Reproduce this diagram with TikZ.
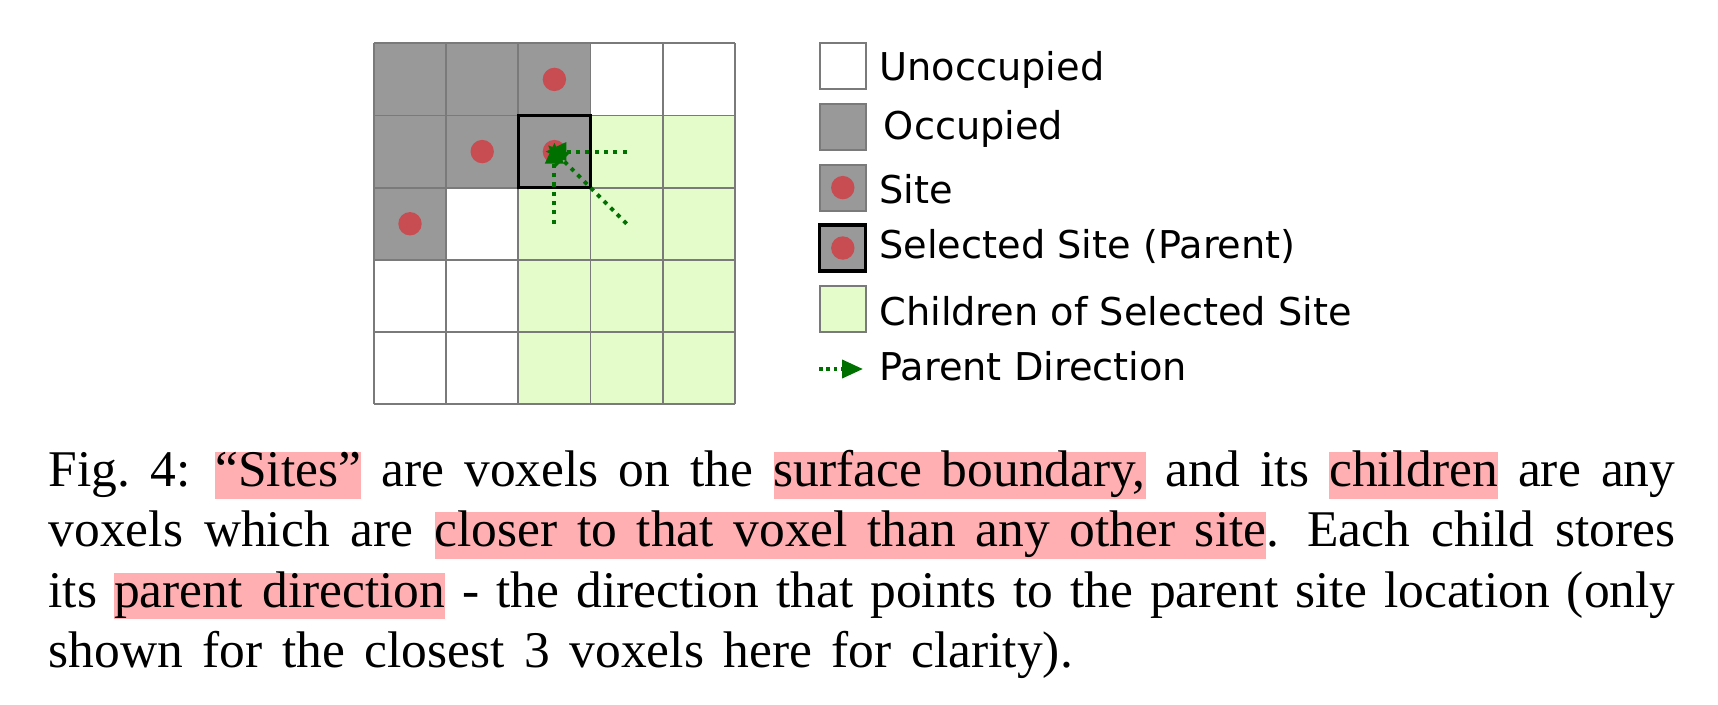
\documentclass[tikz,border=0pt]{standalone}
\usepackage{fontspec}
\setmainfont{Liberation Serif}
\newfontfamily\legfont{DejaVu Sans}
\usetikzlibrary{arrows.meta}

\definecolor{occgray}{RGB}{153,153,153}
\definecolor{gridgray}{RGB}{122,122,122}
\definecolor{sitered}{RGB}{199,77,82}
\definecolor{kidgreen}{RGB}{227,252,201}
\definecolor{dirgreen}{RGB}{0,112,0}
\definecolor{hlpink}{RGB}{255,174,178}

% pink marker behind a phrase of the caption
\newcommand\hilite[1]{\setbox0=\hbox{#1}\rlap{\color{hlpink}\rule[-0.24cm]{\wd0}{0.93cm}}\box0\relax}
% wider word spaces, as in the caption
\newcommand\capspacing{\spaceskip=0.38em plus 0.15em minus 0.08em\relax}

\tikzset{
  gridline/.style={draw=gridgray, line width=1.1pt},
  selbox/.style={draw=black, line width=1.9pt},
  legbox/.style={draw=gridgray, line width=1.1pt, minimum size=0.92cm, inner sep=0pt},
  legtext/.style={anchor=base west, inner sep=0pt, font=\legfont\fontsize{21.8pt}{26pt}\selectfont},
  pdir/.style={dirgreen, line width=2.2pt, dash pattern=on 2.3pt off 3pt,
    -{Triangle[length=0.42cm,width=0.36cm]}},
  captext/.style={anchor=base west, inner sep=0pt, text width=32.54cm, align=justify,
    font=\fontsize{29.3pt}{34.26pt}\selectfont},
}

\begin{document}
\begin{tikzpicture}[x=0.02cm, y=-0.02cm]
\useasboundingbox (0,0) rectangle (1718,704);

% voxel grid
\begin{scope}[xshift=7.48cm, yshift=-0.866cm, x=1.444cm, y=-1.444cm]
    \fill[occgray] (0,0) -- (3,0) -- (3,2) -- (1,2) -- (1,3) -- (0,3) -- cycle;
    \fill[kidgreen] (3,1) -- (5,1) -- (5,5) -- (2,5) -- (2,2) -- (3,2) -- cycle;
    \foreach \k in {0,...,5} {
        \draw[gridline] (\k,0) -- (\k,5);
        \draw[gridline] (0,\k) -- (5,\k);
    }

    \fill[sitered] (2.5,0.5) circle (0.234cm);
    \fill[sitered] (1.5,1.5) circle (0.234cm);
    \fill[sitered] (2.5,1.5) circle (0.234cm);
    \fill[sitered] (0.5,2.5) circle (0.234cm);
    \draw[selbox] (2,1) rectangle (3,2);

    \coordinate (parent) at (2.5,1.5);
    \coordinate (kidE) at (3.5,1.5);
    \coordinate (kidS) at (2.5,2.5);
    \coordinate (kidSE) at (3.5,2.5);
    \draw[pdir, shorten >=-0.18cm] (kidE) -- (parent);
    \draw[pdir, shorten >=-0.18cm] (kidS) -- (parent);
    \draw[pdir, shorten >=-0.18cm] (kidSE) -- (parent);
\end{scope}

% legend
\node[legbox, fill=white] (kUnocc) at (842.8,66.4) {};
\node[legbox, fill=occgray] (kOcc) at (842.8,127) {};
\node[legbox, fill=occgray] (kSite) at (842.8,187.6) {};
\node[legbox, fill=occgray, selbox] (kSel) at (842.8,248) {};
\node[legbox, fill=kidgreen] (kKids) at (842.8,308.6) {};
\fill[sitered] (kSite.center) circle (0.234cm);
\fill[sitered] (kSel.center) circle (0.234cm);
\coordinate (dirStart) at (819,369);
\coordinate (dirEnd) at (863,369);
\draw[pdir, dash pattern=on 2pt off 2.2pt] (dirStart) -- (dirEnd);

\node[legtext] (tUnocc) at (879,80.7) {Unoccupied};
\node[legtext] (tOcc) at (883.5,139.3) {Occupied};
\node[legtext] (tSite) at (879,203.3) {Site};
\node[legtext] (tSel) at (879,258.3) {Selected Site (Parent)};
\node[legtext] (tKids) at (879,325) {Children of Selected Site};
\node[legtext] (tDir) at (879,380) {Parent Direction};

% caption
\node[captext] (caption) at (48.3,486.7)
  {\capspacing Fig.~4: \hilite{“Sites”} are voxels on the \hilite{surface boundary,} and its \hilite{children} are any\linebreak
   voxels which are \hilite{closer to that voxel than any other site}. Each child stores\linebreak
   its \hilite{parent direction} - the direction that points to the parent site location (only\linebreak
   shown for the closest 3 voxels here for clarity).};
\end{tikzpicture}
\end{document}
